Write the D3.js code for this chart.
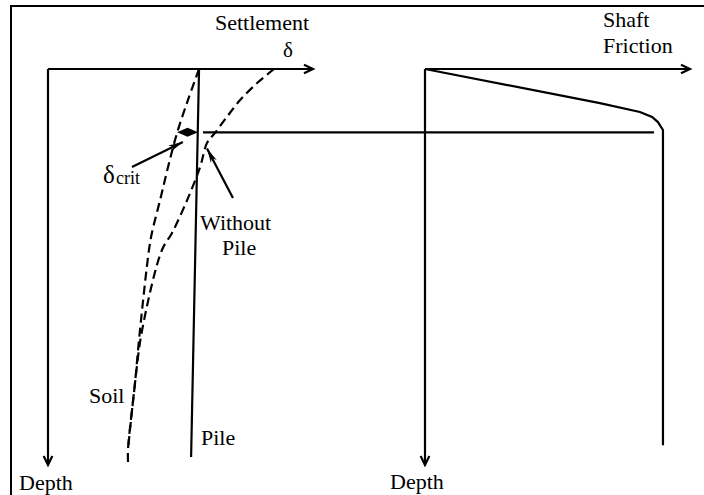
<!DOCTYPE html>
<html><head><meta charset="utf-8">
<script src="https://cdn.jsdelivr.net/npm/d3@7"></script>
<style>
html,body{margin:0;padding:0;background:#fff;}
</style></head>
<body><svg id="c" width="704" height="495"></svg>
<script>
// ---- data ----
const soilDepth      = [0, 1.57, 3.23, 4.95, 6.62, 8.28, 9.14, 13.2, 15.9, 19.2, 19.85];
const soilSettlement = [57.0, 52.8, 48.7, 45.3, 42.3, 39.2, 38.1, 34.7, 32.8, 30.2, 30.2];
const freeDepth      = [0, 0.71, 1.57, 2.42, 3.23, 3.74, 4.95, 6.62, 8.28, 9.14, 13.2, 15.9, 19.2];
const freeSettlement = [85.3, 78.9, 72.5, 67.5, 63.0, 60.0, 57.4, 52.5, 46.8, 43.0, 35.5, 32.8, 30.2];
const pileDepth      = [0, 19.6];
const pileSettlement = [57.0, 54.0];
const frictionDepth  = [0, 1.72, 2.17, 2.42, 2.68, 3.08, 19.0];
const frictionValue  = [0, 66.0, 81.1, 85.7, 87.9, 89.8, 89.8];
const neutralDepth = 3.2;
const neutralFrom = 58.5;   // settlement units (left panel)
const neutralTo = 86.4;     // friction units (right panel)
const deltaCrit = [48.7, 56.6];

// ---- scales ----
const svg = d3.select("#c");
const xL = d3.scaleLinear().domain([0, 100]).range([48, 313]);
const xR = d3.scaleLinear().domain([0, 100]).range([425, 690]);
const y  = d3.scaleLinear().domain([0, 20]).range([69, 465]);
const SW = 2.2;

// frame
svg.append("rect").attr("x", 11).attr("y", 6).attr("width", 700).attr("height", 500)
  .attr("fill", "none").attr("stroke", "#000").attr("stroke-width", 2);

function openArrow(x1, y1, x2, y2) {
  svg.append("line").attr("x1", x1).attr("y1", y1).attr("x2", x2).attr("y2", y2)
    .attr("stroke", "#000").attr("stroke-width", SW);
  const a = Math.atan2(y2 - y1, x2 - x1), L = 10, W = 0.45;
  const p = [[x2 - L * Math.cos(a - W), y2 - L * Math.sin(a - W)], [x2, y2],
             [x2 - L * Math.cos(a + W), y2 - L * Math.sin(a + W)]];
  svg.append("path").attr("d", d3.line()(p)).attr("fill", "none")
    .attr("stroke", "#000").attr("stroke-width", SW);
}
function filledArrow(x1, y1, x2, y2) {
  svg.append("line").attr("x1", x1).attr("y1", y1).attr("x2", x2).attr("y2", y2)
    .attr("stroke", "#000").attr("stroke-width", SW);
  const a = Math.atan2(y2 - y1, x2 - x1), L = 15, W = 0.22;
  const p = [[x2, y2], [x2 - L * Math.cos(a - W), y2 - L * Math.sin(a - W)],
             [x2 - 0.7 * L * Math.cos(a), y2 - 0.7 * L * Math.sin(a)],
             [x2 - L * Math.cos(a + W), y2 - L * Math.sin(a + W)]];
  svg.append("path").attr("d", d3.line()(p) + "Z").attr("fill", "#000");
}

// axes
openArrow(xL(0), y(0), xL(100), y(0));
openArrow(xL(0), y(0), xL(0), y(20));
openArrow(xR(0), y(0), xR(100), y(0));
openArrow(xR(0), y(0), xR(0), y(20));

// curves
const curve = d3.line().curve(d3.curveCatmullRom.alpha(0.5));
svg.append("path")
  .attr("d", curve(soilDepth.map((d, i) => [xL(soilSettlement[i]), y(d)])))
  .attr("fill", "none").attr("stroke", "#000").attr("stroke-width", SW).attr("stroke-dasharray", "9,5");
svg.append("path")
  .attr("d", curve(freeDepth.map((d, i) => [xL(freeSettlement[i]), y(d)])))
  .attr("fill", "none").attr("stroke", "#000").attr("stroke-width", SW).attr("stroke-dasharray", "9,5");
svg.append("path")
  .attr("d", d3.line()(pileDepth.map((d, i) => [xL(pileSettlement[i]), y(d)])))
  .attr("fill", "none").attr("stroke", "#000").attr("stroke-width", SW);
svg.append("path")
  .attr("d", d3.line()(frictionDepth.map((d, i) => [xR(frictionValue[i]), y(d)])))
  .attr("fill", "none").attr("stroke", "#000").attr("stroke-width", SW);

// neutral plane
svg.append("line").attr("x1", xL(neutralFrom)).attr("x2", xR(neutralTo))
  .attr("y1", y(neutralDepth)).attr("y2", y(neutralDepth))
  .attr("stroke", "#000").attr("stroke-width", SW);

// delta crit diamond
const dx0 = xL(deltaCrit[0]), dx1 = xL(deltaCrit[1]), dyc = y(neutralDepth);
svg.append("path").attr("d", d3.line()([[dx0, dyc], [(dx0 + dx1) / 2, dyc - 4.5], [dx1, dyc], [(dx0 + dx1) / 2, dyc + 4.5]]) + "Z")
  .attr("fill", "#000");

// annotation arrows
filledArrow(xL(31.7), y(4.95), xL(50.9), y(3.69));
filledArrow(xL(69.8), y(6.52), xL(60.0), y(4.02));

// labels
function txt(s, x, yy, size) {
  return svg.append("text").attr("x", x).attr("y", yy)
    .attr("font-family", "Liberation Serif, DejaVu Serif, serif")
    .attr("font-size", size).attr("fill", "#000").text(s);
}
txt("Settlement", 215, 30, 22);
txt("δ", 283, 57, 21);
txt("Shaft", 603, 27, 22);
txt("Friction", 603, 53, 22);
txt("δ", 103, 183, 25);
txt("crit", 116, 184, 18);
txt("Without", 200, 230, 22);
txt("Pile", 222, 255, 22);
txt("Soil", 89, 403, 22);
txt("Pile", 201, 445, 22);
txt("Depth", 19, 490, 22);
txt("Depth", 390, 489, 22);
</script></body></html>
